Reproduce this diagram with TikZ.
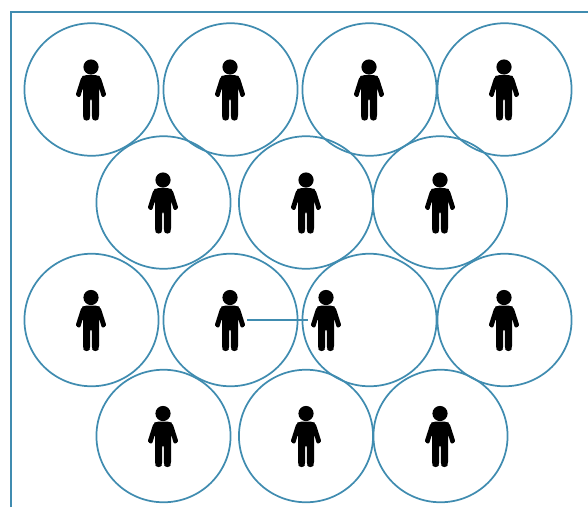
\documentclass[tikz,border=0pt]{standalone}
\usetikzlibrary{shapes.geometric}
\definecolor{frameblue}{RGB}{64,140,176}
\tikzset{
  x=0.75pt,y=-0.75pt,
  cell/.style={draw=frameblue,line width=1.3pt,ellipse,minimum width=100.6pt,minimum height=99.4pt,inner sep=0pt,outer sep=0pt,fill=none},
  link/.style={draw=frameblue,line width=1.3pt},
  person/.pic={
    \fill[black] (0,-22.5) circle[radius=7.6];
    \fill[black,rounded corners=1.6pt]
      (-7,-14.3) -- (7,-14.3) -- (9.5,-12.8) -- (15.5,6) -- (11,8.2) -- (8,-2)
      -- (8,9) -- (8,28) -- (6.8,31) -- (2,31) -- (0.8,28) -- (0.8,9)
      -- (-0.8,9) -- (-0.8,28) -- (-2,31) -- (-6.8,31) -- (-8,28) -- (-8,-2)
      -- (-11,8.2) -- (-15.5,6) -- (-9.5,-12.8) -- cycle;
  }
}
\begin{document}
\begin{tikzpicture}
\useasboundingbox (0,0) rectangle (588,507);
\coordinate (frameBottom) at (11,507);
\coordinate (frameCorner) at (11,12);
\coordinate (frameRight) at (588,12);
\draw[link] (frameBottom) -- (frameCorner) -- (frameRight);
\foreach \n/\cx/\cy/\px in {
  a/91.5/89.5/91, b/230.5/89.5/230, c/369.5/89.5/369, d/504.5/89.5/504,
  e/163.5/202.5/163, f/306/202.5/306, g/440/202.5/440,
  h/91.5/320/91, i/230.5/320/230, j/369.5/320/326, k/504.5/320/504,
  l/163.5/436/163, m/306/436/306, n/440.5/436/440}{
  \node[cell] (\n) at (\cx,\cy) {};
  \pic at (\px,\cy) {person};
}
\coordinate (linkStart) at (247,320);
\coordinate (linkEnd) at (308,320);
\draw[link] (linkStart) -- (linkEnd);
\end{tikzpicture}
\end{document}
